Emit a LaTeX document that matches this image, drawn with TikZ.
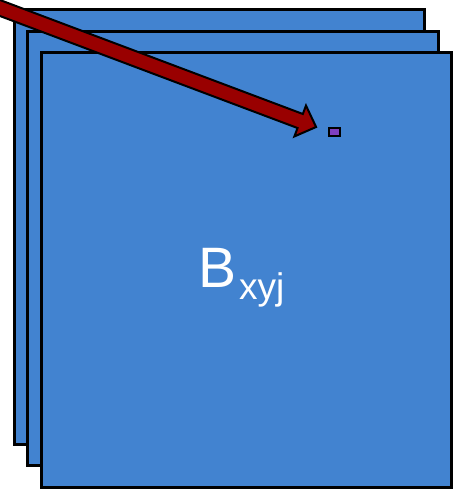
\documentclass[tikz,border=0pt]{standalone}
\usepackage{fontspec}
\setmainfont{Liberation Sans}
\usepackage{tikz}
\usetikzlibrary{positioning,arrows.meta,calc}
\definecolor{sheet}{HTML}{4283D0}
\definecolor{pointer}{HTML}{990000}
\definecolor{cell}{HTML}{7F3FBF}

\begin{document}
\begin{tikzpicture}[x=1pt, y=-1pt,
  sheetbox/.style={draw=black, line width=3pt, fill=sheet},
  cellbox/.style={draw=black, line width=1.8pt, fill=cell, minimum width=11pt, minimum height=8pt, inner sep=0pt},
  pointerarrow/.style={draw=black, line width=2pt, fill=pointer, line join=miter}]
\useasboundingbox (0,0) rectangle (462,492);
\clip (0,0) rectangle (462,492);
\foreach \i in {0,1,2}
  \draw[sheetbox] (14+13.7*\i,10+21.5*\i) rectangle ++(410.5,434);
\node[cellbox] (cell) at (334.5,132) {};
\coordinate (from) at (-20,0.5);
\coordinate (tip) at ($(cell.west)+(-12,-5)$);
\coordinate (hb) at ($(tip)!17pt!(from)$);
\draw[pointerarrow] ($(from)!7.5pt!90:(tip)$) -- ($(hb)!7.5pt!90:(tip)$)
  -- ($(hb)!16.5pt!90:(tip)$) -- (tip) -- ($(hb)!16.5pt!-90:(tip)$)
  -- ($(hb)!7.5pt!-90:(tip)$) -- ($(from)!7.5pt!-90:(tip)$) -- cycle;
\node[anchor=base west, inner sep=0pt, text=white] (label) at (198,287)
  {\fontsize{57}{60}\selectfont B\hspace{3pt}\raisebox{-12pt}{\fontsize{37}{40}\selectfont xyj}};
\end{tikzpicture}
\end{document}
